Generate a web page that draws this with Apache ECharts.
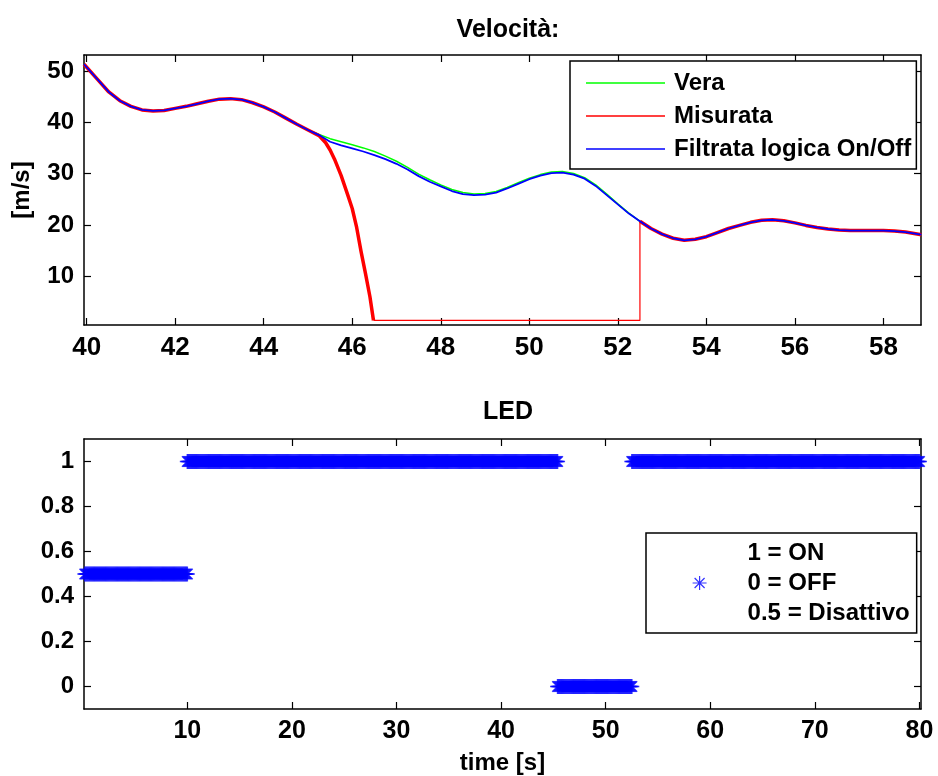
<!DOCTYPE html>
<html>
<head>
<meta charset="utf-8">
<script src="https://cdn.jsdelivr.net/npm/echarts@6/dist/echarts.min.js"></script>
<style>
  html, body { margin: 0; padding: 0; background: #fff; }
  #chart { width: 938px; height: 776px; }
</style>
</head>
<body>
<div id="chart"></div>
<script>
// --- velocity data ---
const velTime = [39.94, 40.25, 40.5, 40.75, 41.0, 41.25, 41.5, 41.75, 42.0, 42.25, 42.5, 42.75,
  43.0, 43.25, 43.5, 43.75, 44.0, 44.25, 44.5, 44.75, 45.0, 45.25, 45.5, 45.75, 46.0, 46.25,
  46.5, 46.75, 47.0, 47.25, 47.5, 47.75, 48.0, 48.25, 48.5, 48.75, 49.0, 49.25, 49.5, 49.75,
  50.0, 50.25, 50.5, 50.75, 51.0, 51.25, 51.5, 51.75, 52.0, 52.25, 52.5, 52.75, 53.0, 53.25,
  53.5, 53.75, 54.0, 54.25, 54.5, 54.75, 55.0, 55.25, 55.5, 55.75, 56.0, 56.25, 56.5, 56.75,
  57.0, 57.25, 57.5, 57.75, 58.0, 58.25, 58.5, 58.86];
const velVera = [51.3, 48.3, 45.9, 44.2, 43.1, 42.4, 42.2, 42.3, 42.7, 43.1, 43.6, 44.1,
  44.5, 44.6, 44.4, 43.8, 43.0, 42.0, 40.8, 39.6, 38.5, 37.6, 36.8, 36.2, 35.6, 35.0,
  34.3, 33.4, 32.4, 31.2, 29.9, 28.8, 27.8, 26.9, 26.3, 26.0, 26.1, 26.5, 27.3, 28.2,
  29.1, 29.8, 30.3, 30.4, 30.0, 29.2, 27.8, 26.0, 24.1, 22.3, 20.7, 19.3, 18.2, 17.4,
  17.0, 17.2, 17.7, 18.5, 19.3, 19.9, 20.5, 20.9, 21.0, 20.8, 20.4, 19.9, 19.5, 19.2,
  19.0, 18.9, 18.9, 18.9, 18.9, 18.8, 18.6, 18.1];
const velFiltrata = [51.3, 48.3, 45.9, 44.2, 43.1, 42.4, 42.2, 42.3, 42.7, 43.1, 43.6, 44.1,
  44.5, 44.6, 44.4, 43.8, 43.0, 42.0, 40.8, 39.6, 38.5, 37.5, 36.2, 35.5, 34.9, 34.3,
  33.6, 32.8, 31.9, 30.8, 29.5, 28.4, 27.5, 26.6, 26.0, 25.8, 25.9, 26.3, 27.1, 28.0,
  28.9, 29.6, 30.1, 30.2, 29.8, 29.0, 27.6, 25.8, 24.0, 22.2, 20.7, 19.3, 18.2, 17.4,
  17.0, 17.2, 17.7, 18.5, 19.3, 19.9, 20.5, 20.9, 21.0, 20.8, 20.4, 19.9, 19.5, 19.2,
  19.0, 18.9, 18.9, 18.9, 18.9, 18.8, 18.6, 18.1];

// measured speed: noisy part before dropout, flat dropout, noisy part after
const misTimeA = [39.94, 40.25, 40.5, 40.75, 41.0, 41.25, 41.5, 41.75, 42.0, 42.25, 42.5, 42.75,
  43.0, 43.25, 43.5, 43.75, 44.0, 44.25, 44.5, 44.75, 45.0, 45.25, 45.4, 45.5, 45.6, 45.75,
  45.9, 46.0, 46.1, 46.2, 46.3, 46.4, 46.48];
const misValA = [51.3, 48.3, 45.9, 44.2, 43.1, 42.4, 42.2, 42.3, 42.7, 43.1, 43.6, 44.1,
  44.5, 44.6, 44.4, 43.8, 43.0, 42.0, 40.8, 39.6, 38.5, 37.4, 36.0, 34.6, 32.8, 29.6,
  25.8, 23.2, 19.5, 14.8, 10.5, 6.0, 1.4];
const misTimeDrop = [46.48, 52.5, 52.5];
const misValDrop = [1.4, 1.4, 20.7];
const misTimeB = [52.5, 52.75, 53.0, 53.25, 53.5, 53.75, 54.0, 54.25, 54.5, 54.75, 55.0, 55.25,
  55.5, 55.75, 56.0, 56.25, 56.5, 56.75, 57.0, 57.25, 57.5, 57.75, 58.0, 58.25, 58.5, 58.86];
const misValB = [20.7, 19.3, 18.2, 17.4, 17.0, 17.2, 17.7, 18.5, 19.3, 19.9, 20.5, 20.9,
  21.0, 20.8, 20.4, 19.9, 19.5, 19.2, 19.0, 18.9, 18.9, 18.9, 18.9, 18.8, 18.6, 18.1];

// --- LED state segments ---
const ledStart = [0, 10, 45.4, 52.5];
const ledEnd = [10, 45.4, 52.5, 80];
const ledState = [0.5, 1, 0, 1];
const ledStep = 0.1;

const velTicks = [40, 42, 44, 46, 48, 50, 52, 54, 56, 58];
const velYTicks = [10, 20, 30, 40, 50];
const ledXTicks = [10, 20, 30, 40, 50, 60, 70, 80];
const ledYTicks = [0, 0.2, 0.4, 0.6, 0.8, 1];

const pairs = (xs, ys) => xs.map((x, i) => [x, ys[i]]);

const ledData = [];
ledStart.forEach((s, k) => {
  for (let t = s; t < ledEnd[k] + 1e-9; t += ledStep) ledData.push([+t.toFixed(2), ledState[k]]);
});

const asterisk = 'path://M0,8L16,8M8,0L8,16M2.3,2.3L13.7,13.7M2.3,13.7L13.7,2.3';
const font = 'Liberation Sans, Arial, sans-serif';
const lineCol = '#000';

function xAxisCfg(grid, min, max, ticks, top, labelSize) {
  return {
    type: 'value', gridIndex: grid, min: min, max: max,
    position: top ? 'top' : 'bottom',
    name: (!top && grid === 1) ? 'time [s]' : '',
    nameLocation: 'middle', nameGap: 42,
    nameTextStyle: { color: '#000', fontSize: 24, fontWeight: 'bold', fontFamily: font },
    axisLine: { show: true, onZero: false, lineStyle: { color: lineCol, width: 1.5 } },
    axisTick: { show: true, inside: true, length: 7, customValues: ticks, lineStyle: { color: lineCol, width: 1.2 } },
    axisLabel: { show: !top, customValues: ticks, margin: 10, color: '#000', fontSize: labelSize, fontWeight: 'bold', fontFamily: font },
    splitLine: { show: false }
  };
}
function yAxisCfg(grid, min, max, ticks, right, name) {
  return {
    type: 'value', gridIndex: grid, min: min, max: max,
    position: right ? 'right' : 'left',
    name: right ? '' : name,
    nameLocation: 'middle', nameGap: 50, nameRotate: 90,
    nameTextStyle: { color: '#000', fontSize: 24, fontWeight: 'bold', fontFamily: font },
    axisLine: { show: true, onZero: false, lineStyle: { color: lineCol, width: 1.5 } },
    axisTick: { show: true, inside: true, length: 7, customValues: ticks, lineStyle: { color: lineCol, width: 1.2 } },
    axisLabel: { show: !right, customValues: ticks, margin: 10, color: '#000', fontSize: 24, fontWeight: 'bold', fontFamily: font },
    splitLine: { show: false }
  };
}

const chart = echarts.init(document.getElementById('chart'));
chart.setOption({
  animation: false,
  backgroundColor: '#fff',
  textStyle: { fontFamily: font },
  title: [
    { text: 'Velocità:', left: 503, textAlign: 'center', top: 13, textStyle: { fontSize: 25, fontWeight: 'bold', color: '#000', fontFamily: font } },
    { text: 'LED', left: 503, textAlign: 'center', top: 395, textStyle: { fontSize: 25, fontWeight: 'bold', color: '#000', fontFamily: font } }
  ],
  grid: [
    { left: 84, top: 55, right: 17, height: 270 },
    { left: 84, top: 439, right: 17, height: 270 }
  ],
  xAxis: [
    xAxisCfg(0, 39.94, 58.85, velTicks, false, 26),
    xAxisCfg(0, 39.94, 58.85, velTicks, true, 26),
    xAxisCfg(1, 0.12, 80.15, ledXTicks, false, 25),
    xAxisCfg(1, 0.12, 80.15, ledXTicks, true, 25)
  ],
  yAxis: [
    yAxisCfg(0, 0.5, 53.1, velYTicks, false, '[m/s]'),
    yAxisCfg(0, 0.5, 53.1, velYTicks, true, ''),
    yAxisCfg(1, -0.1, 1.1, ledYTicks, false, ''),
    yAxisCfg(1, -0.1, 1.1, ledYTicks, true, '')
  ],
  legend: [
    {
      data: [
        { name: 'Vera', icon: 'rect' },
        { name: 'Misurata', icon: 'rect' },
        { name: 'Filtrata logica On/Off', icon: 'rect' }
      ],
      orient: 'vertical', left: 570, top: 61,
      padding: [9, 5, 7, 16], itemGap: 7,
      itemWidth: 79, itemHeight: 1.5,
      borderColor: '#000', borderWidth: 1.5, backgroundColor: '#fff',
      selectedMode: false,
      textStyle: { fontSize: 24, fontWeight: 'bold', color: '#000', lineHeight: 26, padding: [0, 0, 0, 4], fontFamily: font }
    },
    {
      data: [{ name: 'LED', icon: asterisk, itemStyle: { color: 'transparent', borderColor: '#0000ff', borderWidth: 1.2 } }],
      formatter: () => '1 = ON\n0 = OFF\n0.5 = Disattivo',
      left: 646, top: 533,
      padding: [5, 7, 5, 46],
      itemWidth: 14, itemHeight: 14,
      borderColor: '#000', borderWidth: 1.5, backgroundColor: '#fff',
      selectedMode: false,
      textStyle: { fontSize: 24, fontWeight: 'bold', color: '#000', lineHeight: 30, padding: [0, 0, 0, 36], fontFamily: font }
    }
  ],
  series: [
    {
      name: 'Vera', type: 'line', xAxisIndex: 0, yAxisIndex: 0,
      data: pairs(velTime, velVera), showSymbol: false,
      lineStyle: { color: '#00ff00', width: 1.5 }, itemStyle: { color: '#00ff00' }, silent: true
    },
    {
      name: 'Misurata', type: 'line', xAxisIndex: 0, yAxisIndex: 0,
      data: pairs(misTimeA, misValA), showSymbol: false,
      lineStyle: { color: '#ff0000', width: 3.5, join: 'round' }, itemStyle: { color: '#ff0000' }, silent: true
    },
    {
      name: 'Misurata', type: 'line', xAxisIndex: 0, yAxisIndex: 0,
      data: pairs(misTimeDrop, misValDrop), showSymbol: false,
      lineStyle: { color: '#ff0000', width: 1.2 }, itemStyle: { color: '#ff0000' }, silent: true
    },
    {
      name: 'Misurata', type: 'line', xAxisIndex: 0, yAxisIndex: 0,
      data: pairs(misTimeB, misValB), showSymbol: false,
      lineStyle: { color: '#ff0000', width: 3.5, join: 'round' }, itemStyle: { color: '#ff0000' }, silent: true
    },
    {
      name: 'Filtrata logica On/Off', type: 'line', xAxisIndex: 0, yAxisIndex: 0,
      data: pairs(velTime, velFiltrata), showSymbol: false,
      lineStyle: { color: '#0000ff', width: 1.8, join: 'round' }, itemStyle: { color: '#0000ff' }, silent: true
    },
    {
      name: 'LED', type: 'scatter', xAxisIndex: 2, yAxisIndex: 2,
      data: ledData, symbol: asterisk, symbolSize: 15, silent: true,
      itemStyle: { color: 'transparent', borderColor: '#0000ff', borderWidth: 1.5 }
    }
  ]
});
</script>
</body>
</html>
